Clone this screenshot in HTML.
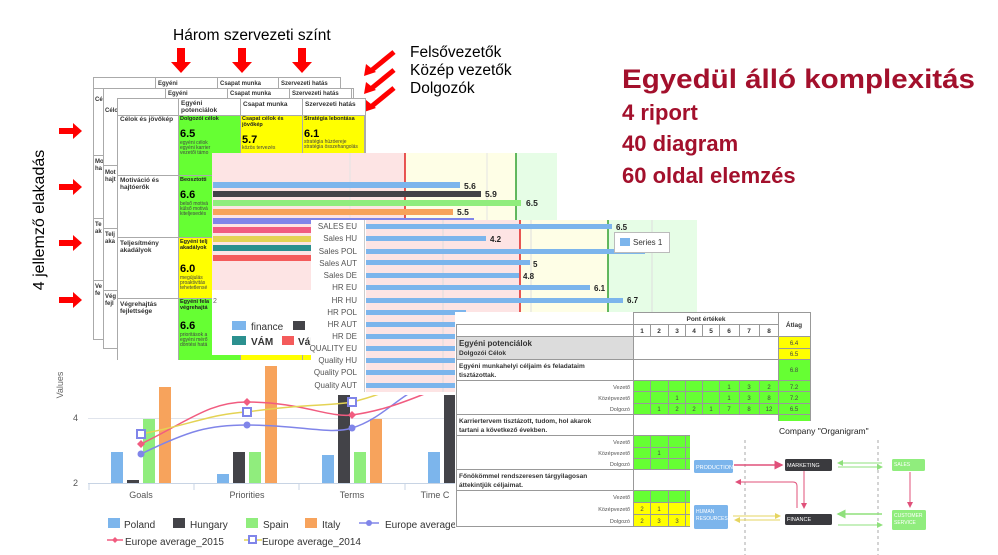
<!DOCTYPE html>
<html><head><meta charset="utf-8"><style>
html,body{margin:0;padding:0;background:#fff;}
svg{display:block;font-family:"Liberation Sans",sans-serif;}
</style></head><body>
<svg width="998" height="555" viewBox="0 0 998 555" xmlns="http://www.w3.org/2000/svg">
<defs>
<marker id="ap" markerWidth="6" markerHeight="6" refX="5" refY="3" orient="auto"><path d="M0,0 L6,3 L0,6z" fill="#e0507a"/></marker>
<marker id="ag" markerWidth="6" markerHeight="6" refX="5" refY="3" orient="auto"><path d="M0,0 L6,3 L0,6z" fill="#8fe07c"/></marker>
<marker id="ay" markerWidth="6" markerHeight="6" refX="5" refY="3" orient="auto"><path d="M0,0 L6,3 L0,6z" fill="#e6d560"/></marker>
</defs>
<rect width="998" height="555" fill="#fff"/>

<text x="173" y="40" font-size="15.5" fill="#000">Három szervezeti színt</text>
<g fill="#f00">
<path d="M177,48h8v14h6l-10,11l-10,-11h6z"/>
<path d="M238,48h8v14h6l-10,11l-10,-11h6z"/>
<path d="M298,48h8v14h6l-10,11l-10,-11h6z"/>
</g>
<g stroke="#f00" stroke-width="5" fill="none">
<line x1="394" y1="52" x2="372" y2="70"/><line x1="394" y1="70" x2="372" y2="88"/><line x1="394" y1="88" x2="372" y2="106"/>
</g>
<g fill="#f00">
<path d="M364,76 L366,64 L376,72z"/><path d="M364,94 L366,82 L376,90z"/><path d="M364,112 L366,100 L376,108z"/>
</g>
<text x="410" y="57" font-size="15.5">Felsővezetők</text>
<text x="410" y="75" font-size="15.5">Közép vezetők</text>
<text x="410" y="93" font-size="15.5">Dolgozók</text>

<text transform="translate(44,220) rotate(-90)" text-anchor="middle" font-size="16">4 jellemző elakadás</text>
<g fill="#f00">
<path d="M59,128h14v-5l9,8l-9,8v-5h-14z"/>
<path d="M59,184h14v-5l9,8l-9,8v-5h-14z"/>
<path d="M59,240h14v-5l9,8l-9,8v-5h-14z"/>
<path d="M59,297h14v-5l9,8l-9,8v-5h-14z"/>
</g>

<g stroke="#aaa" stroke-width="1" fill="#fff">
<rect x="93.5" y="77.5" width="247" height="262"/>
<rect x="155.5" y="77.5" width="62" height="11"/><rect x="217.5" y="77.5" width="61" height="11"/><rect x="278.5" y="77.5" width="62" height="11"/>
<line x1="93" y1="88.5" x2="340" y2="88.5"/>
<line x1="93" y1="155.5" x2="103" y2="155.5"/><line x1="93" y1="218.5" x2="103" y2="218.5"/><line x1="93" y1="280.5" x2="103" y2="280.5"/>
</g>
<g font-size="6" font-weight="bold" fill="#333">
<text x="158" y="85">Egyéni</text><text x="220" y="85">Csapat munka</text><text x="281" y="85">Szervezeti hatás</text>
<text x="95" y="101">Cé</text><text x="95" y="163">Mo</text><text x="95" y="170">ha</text><text x="95" y="226">Te</text><text x="95" y="233">ak</text><text x="95" y="288">Ve</text><text x="95" y="295">fe</text>
</g>
<g stroke="#aaa" stroke-width="1" fill="#fff">
<rect x="103.5" y="88.5" width="250" height="260"/>
<rect x="165.5" y="88.5" width="62" height="10"/><rect x="227.5" y="88.5" width="62" height="10"/><rect x="289.5" y="88.5" width="62" height="10"/>
<line x1="103" y1="165.5" x2="117" y2="165.5"/><line x1="103" y1="228.5" x2="117" y2="228.5"/><line x1="103" y1="290.5" x2="117" y2="290.5"/>
</g>
<g font-size="6" font-weight="bold" fill="#333">
<text x="168" y="95">Egyéni</text><text x="230" y="95">Csapat munka</text><text x="292" y="95">Szervezeti hatás</text>
<text x="105" y="112">Célo</text><text x="105" y="174">Mot</text><text x="105" y="181">hajt</text><text x="105" y="236">Telj</text><text x="105" y="243">aka</text><text x="105" y="298">Vég</text><text x="105" y="305">fejl</text>
</g>
<g stroke="#aaa" stroke-width="1">
<rect x="117.5" y="98.5" width="248" height="262" fill="#fff"/>
<rect x="178.5" y="115.5" width="62" height="60" fill="#66ff33"/>
<rect x="240.5" y="115.5" width="62" height="60" fill="#ffff00"/>
<rect x="302.5" y="115.5" width="62" height="60" fill="#ffff00"/>
<rect x="178.5" y="175.5" width="62" height="62" fill="#66ff33"/>
<rect x="178.5" y="237.5" width="62" height="61" fill="#ffff00"/>
<rect x="178.5" y="298.5" width="62" height="62" fill="#66ff33"/>
<rect x="240.5" y="298.5" width="62" height="62" fill="#ffff00"/>
<rect x="302.5" y="298.5" width="62" height="62" fill="#ffff00"/>
<line x1="178.5" y1="98" x2="178.5" y2="360"/><line x1="240.5" y1="98" x2="240.5" y2="115"/><line x1="302.5" y1="98" x2="302.5" y2="115"/>
<line x1="117" y1="115.5" x2="365" y2="115.5"/><line x1="117" y1="175.5" x2="178" y2="175.5"/><line x1="117" y1="237.5" x2="178" y2="237.5"/><line x1="117" y1="298.5" x2="178" y2="298.5"/>
</g>
<g font-size="6.5" font-weight="bold" fill="#333">
<text x="181" y="105">Egyéni</text><text x="181" y="112">potenciálok</text><text x="243" y="106">Csapat munka</text><text x="305" y="106">Szervezeti hatás</text>
<text x="120" y="121">Célok és jövőkép</text>
<text x="120" y="182">Motiváció és</text><text x="120" y="189">hajtóerők</text>
<text x="120" y="245">Teljesítmény</text><text x="120" y="252">akadályok</text>
<text x="120" y="306">Végrehajtás</text><text x="120" y="313">fejlettsége</text>
</g>
<g font-size="5.5" font-weight="bold" fill="#222">
<text x="180" y="120">Dolgozói célok</text><text x="242" y="120">Csapat célok és</text><text x="242" y="126">jövőkép</text><text x="304" y="120">Stratégia lebontása</text>
<text x="180" y="181">Beosztotti</text><text x="180" y="243">Egyéni telj</text><text x="180" y="249">akadályok</text>
<text x="180" y="303">Egyéni fela</text><text x="180" y="309">végrehajtá</text>
</g>
<g font-size="11" font-weight="bold" fill="#000">
<text x="180" y="137">6.5</text><text x="242" y="143">5.7</text><text x="304" y="137">6.1</text>
<text x="180" y="198">6.6</text><text x="180" y="272">6.0</text><text x="180" y="329">6.6</text>
</g>
<g font-size="5" fill="#444">
<text x="180" y="144">egyéni célok</text><text x="180" y="149">egyéni karrier</text><text x="180" y="154">vezetői támo</text>
<text x="242" y="149">közös tervezés</text><text x="304" y="143">stratégia húzóereje</text><text x="304" y="148">stratégia összehangolás</text>
<text x="180" y="205">belső motivá</text><text x="180" y="210">külső motivá</text><text x="180" y="215">kiteljesedés</text>
<text x="180" y="279">megújulás</text><text x="180" y="284">proaktivitás</text><text x="180" y="289">tehetetlensé</text>
<text x="180" y="336">prioritások a</text><text x="180" y="341">egyéni mérő</text><text x="180" y="346">döntési hatá</text>
</g>

<rect x="212" y="153" width="345" height="202" fill="#fff"/>
<rect x="212" y="153" width="193" height="137" fill="#fde4e4"/>
<rect x="405" y="153" width="111" height="137" fill="#fefee6"/>
<rect x="516" y="153" width="41" height="137" fill="#e6fde6"/>
<g stroke="#e4e4e4"><line x1="350" y1="153" x2="350" y2="290"/><line x1="487" y1="153" x2="487" y2="290"/></g>
<line x1="405" y1="153" x2="405" y2="290" stroke="#e02020" stroke-width="1.5"/>
<line x1="516" y1="153" x2="516" y2="290" stroke="#30a030" stroke-width="1.5"/>
<rect x="213" y="182" width="247" height="6" fill="#7cb5ec"/>
<rect x="213" y="191" width="268" height="6" fill="#434348"/>
<rect x="213" y="200" width="308" height="6" fill="#90ed7d"/>
<rect x="213" y="209" width="240" height="6" fill="#f7a35c"/>
<rect x="213" y="218" width="261" height="6" fill="#8085e9"/>
<rect x="213" y="227" width="100" height="6" fill="#f15c80"/>
<rect x="213" y="236" width="100" height="6" fill="#e4d354"/>
<rect x="213" y="245" width="100" height="6" fill="#2b908f"/>
<rect x="213" y="255" width="100" height="6" fill="#f45b5b"/>
<g font-size="8.5" font-weight="bold" fill="#222">
<text x="464" y="189">5.6</text><text x="485" y="197">5.9</text><text x="526" y="206">6.5</text><text x="457" y="215">5.5</text>
</g>
<rect x="232" y="321" width="14" height="9" fill="#7cb5ec"/><text x="251" y="330" font-size="10" fill="#333">finance</text>
<rect x="293" y="321" width="12" height="9" fill="#434348"/>
<rect x="232" y="336" width="14" height="9" fill="#2b908f"/><text x="251" y="345" font-size="10" font-weight="bold" fill="#333">VÁM</text>
<rect x="282" y="336" width="12" height="9" fill="#f45b5b"/><text x="298" y="345" font-size="10" font-weight="bold" fill="#333">Váll</text>
<text x="213" y="303" font-size="7" fill="#666">2</text>

<rect x="40" y="360" width="415" height="195" fill="#fff"/>
<text transform="translate(63,385) rotate(-90)" text-anchor="middle" font-size="9" fill="#666">Values</text>
<line x1="88" y1="418.5" x2="455" y2="418.5" stroke="#e0e4ec"/>
<line x1="88" y1="483.5" x2="455" y2="483.5" stroke="#c8d4e4"/>
<g stroke="#c8d4e4"><line x1="89" y1="483" x2="89" y2="490"/><line x1="194" y1="483" x2="194" y2="490"/><line x1="299" y1="483" x2="299" y2="490"/><line x1="405" y1="483" x2="405" y2="490"/></g>
<text x="73" y="421" font-size="9" fill="#555">4</text><text x="73" y="486" font-size="9" fill="#555">2</text>
<g font-size="9" fill="#555" text-anchor="middle"><text x="141" y="498">Goals</text><text x="247" y="498">Priorities</text><text x="352" y="498">Terms</text><text x="435" y="498">Time C</text></g>
<g>
<rect x="111" y="452" width="12" height="31" fill="#7cb5ec"/><rect x="127" y="480" width="12" height="3" fill="#434348"/><rect x="143" y="419" width="12" height="64" fill="#90ed7d"/><rect x="159" y="387" width="12" height="96" fill="#f7a35c"/>
<rect x="217" y="474" width="12" height="9" fill="#7cb5ec"/><rect x="233" y="452" width="12" height="31" fill="#434348"/><rect x="249" y="452" width="12" height="31" fill="#90ed7d"/><rect x="265" y="366" width="12" height="117" fill="#f7a35c"/>
<rect x="322" y="455" width="12" height="28" fill="#7cb5ec"/><rect x="338" y="390" width="12" height="93" fill="#434348"/><rect x="354" y="452" width="12" height="31" fill="#90ed7d"/><rect x="370" y="419" width="12" height="64" fill="#f7a35c"/>
<rect x="428" y="452" width="12" height="31" fill="#7cb5ec"/><rect x="444" y="390" width="11" height="93" fill="#434348"/>
</g>
<path d="M141,454 C190,430 210,425 247,425 C300,425 330,435 352,428 C380,420 400,395 420,388" stroke="#8085e9" stroke-width="1.5" fill="none"/>
<path d="M141,444 C190,420 210,402 247,402 C300,402 330,418 352,415 C390,410 420,395 440,388" stroke="#f15c80" stroke-width="1.5" fill="none"/>
<path d="M141,434 C190,425 210,414 247,412 C300,404 330,406 352,402 C370,398 385,392 395,388" stroke="#e4d354" stroke-width="1.5" fill="none"/>
<circle cx="141" cy="454" r="3.5" fill="#8085e9"/><circle cx="247" cy="425" r="3.5" fill="#8085e9"/><circle cx="352" cy="428" r="3.5" fill="#8085e9"/>
<g fill="#f15c80"><path d="M141,440l4,4l-4,4l-4,-4z"/><path d="M247,398l4,4l-4,4l-4,-4z"/><path d="M352,411l4,4l-4,4l-4,-4z"/></g>
<g fill="#fff" stroke="#8085e9" stroke-width="2"><rect x="137" y="430" width="8" height="8"/><rect x="243" y="408" width="8" height="8"/><rect x="348" y="398" width="8" height="8"/></g>
<g font-size="10" fill="#333">
<rect x="108" y="518" width="12" height="10" fill="#7cb5ec"/><text x="124" y="528">Poland</text>
<rect x="173" y="518" width="12" height="10" fill="#434348"/><text x="190" y="528">Hungary</text>
<rect x="246" y="518" width="12" height="10" fill="#90ed7d"/><text x="263" y="528">Spain</text>
<rect x="305" y="518" width="12" height="10" fill="#f7a35c"/><text x="322" y="528">Italy</text>
<line x1="359" y1="523" x2="379" y2="523" stroke="#8085e9" stroke-width="1.5"/><circle cx="369" cy="523" r="3" fill="#8085e9"/><text x="385" y="528">Europe average</text>
<line x1="107" y1="540" x2="123" y2="540" stroke="#f15c80" stroke-width="1.5"/><path d="M115,537l3,3l-3,3l-3,-3z" fill="#f15c80"/><text x="125" y="545">Europe average_2015</text>
<line x1="244" y1="540" x2="262" y2="540" stroke="#e4d354" stroke-width="1.5"/><rect x="249" y="536" width="7" height="7" fill="#fff" stroke="#8085e9" stroke-width="2"/><text x="262" y="545">Europe average_2014</text>
</g>

<rect x="311" y="220" width="386" height="175" fill="#fff"/>
<rect x="366" y="220" width="154" height="172" fill="#fde4e4"/>
<rect x="520" y="220" width="88" height="172" fill="#fefee6"/>
<rect x="608" y="220" width="89" height="172" fill="#e6fde6"/>
<g stroke="#ddd"><line x1="443" y1="220" x2="443" y2="392"/><line x1="531" y1="220" x2="531" y2="392"/><line x1="652" y1="220" x2="652" y2="392"/></g>
<line x1="520" y1="220" x2="520" y2="392" stroke="#e02020" stroke-width="1.5"/>
<line x1="608" y1="220" x2="608" y2="392" stroke="#30a030" stroke-width="1.5"/>
<line x1="364.5" y1="220" x2="364.5" y2="392" stroke="#ccc"/>
<g fill="#7cb5ec">
<rect x="366" y="224" width="246" height="5"/><rect x="366" y="236" width="120" height="5"/><rect x="366" y="249" width="279" height="5"/><rect x="366" y="260" width="164" height="5"/><rect x="366" y="273" width="153" height="5"/><rect x="366" y="285" width="224" height="5"/><rect x="366" y="298" width="257" height="5"/>
<rect x="366" y="310" width="100" height="5"/><rect x="366" y="322" width="100" height="5"/><rect x="366" y="334" width="100" height="5"/><rect x="366" y="346" width="100" height="5"/><rect x="366" y="358" width="100" height="5"/><rect x="366" y="370" width="100" height="5"/><rect x="366" y="383" width="100" height="5"/>
</g>
<g font-size="8" fill="#555" text-anchor="end">
<text x="357" y="229">SALES EU</text><text x="357" y="241">Sales HU</text><text x="357" y="254">Sales POL</text><text x="357" y="266">Sales AUT</text><text x="357" y="278">Sales DE</text><text x="357" y="290">HR EU</text><text x="357" y="303">HR HU</text><text x="357" y="315">HR POL</text><text x="357" y="327">HR AUT</text><text x="357" y="339">HR DE</text><text x="357" y="351">QUALITY EU</text><text x="357" y="363">Quality HU</text><text x="357" y="375">Quality POL</text><text x="357" y="388">Quality AUT</text>
</g>
<g font-size="8" font-weight="bold" fill="#222">
<text x="616" y="230">6.5</text><text x="490" y="242">4.2</text><text x="533" y="267">5</text><text x="523" y="279">4.8</text><text x="594" y="291">6.1</text><text x="627" y="303">6.7</text>
</g>
<rect x="614.5" y="232.5" width="55" height="20" fill="#fff" stroke="#bbb"/>
<rect x="620" y="238" width="10" height="8" fill="#7cb5ec"/><text x="633" y="245" font-size="8" fill="#333">Series 1</text>

<rect x="455" y="312" width="360" height="215" fill="#fff"/>
<g stroke="#999" stroke-width="1" fill="none">
<rect x="633.5" y="312.5" width="145" height="12"/>
<rect x="778.5" y="312.5" width="32" height="24"/>
<rect x="456.5" y="324.5" width="177" height="12"/>
</g>
<g fill="#66ff33">
<rect x="778" y="359" width="32" height="21"/><rect x="633" y="380" width="177" height="34"/><rect x="778" y="414" width="32" height="21"/><rect x="633" y="435" width="177" height="34"/><rect x="633" y="490" width="177" height="12"/>
</g>
<g fill="#ffff00"><rect x="778" y="336" width="32" height="12"/><rect x="778" y="348" width="32" height="11"/><rect x="633" y="502" width="177" height="24"/></g>
<rect x="456" y="336" width="177" height="23" fill="#dcdcdc"/>
<g stroke="#999" stroke-width="1">
<line x1="456" y1="336.5" x2="811" y2="336.5"/><line x1="456" y1="359.5" x2="811" y2="359.5"/><line x1="456" y1="380.5" x2="811" y2="380.5"/><line x1="456" y1="414.5" x2="811" y2="414.5"/><line x1="456" y1="435.5" x2="811" y2="435.5"/><line x1="456" y1="469.5" x2="811" y2="469.5"/><line x1="456" y1="490.5" x2="811" y2="490.5"/><line x1="456" y1="526.5" x2="811" y2="526.5"/>
<line x1="633" y1="391.5" x2="811" y2="391.5"/><line x1="633" y1="403.5" x2="811" y2="403.5"/><line x1="633" y1="447.5" x2="811" y2="447.5"/><line x1="633" y1="458.5" x2="811" y2="458.5"/><line x1="633" y1="502.5" x2="811" y2="502.5"/><line x1="633" y1="514.5" x2="811" y2="514.5"/><line x1="778" y1="348.5" x2="811" y2="348.5"/>
<line x1="456.5" y1="324" x2="456.5" y2="527"/><line x1="633.5" y1="312" x2="633.5" y2="527"/><line x1="778.5" y1="312" x2="778.5" y2="527"/><line x1="810.5" y1="312" x2="810.5" y2="527"/>
</g>
<g stroke="#999" stroke-width="1">
<path d="M650.5,324V336M668.5,324V336M685.5,324V336M702.5,324V336M719.5,324V336M739.5,324V336M759.5,324V336"/>
<path d="M650.5,380V414M668.5,380V414M685.5,380V414M702.5,380V414M719.5,380V414M739.5,380V414M759.5,380V414"/>
<path d="M650.5,435V469M668.5,435V469M685.5,435V469M650.5,490V526M668.5,490V526M685.5,490V526"/>
</g>
<g font-size="6.5" font-weight="bold" fill="#333" text-anchor="middle">
<text x="706" y="321">Pont értékek</text><text x="794" y="327">Átlag</text>
<text x="642" y="333">1</text><text x="659" y="333">2</text><text x="677" y="333">3</text><text x="694" y="333">4</text><text x="711" y="333">5</text><text x="729" y="333">6</text><text x="749" y="333">7</text><text x="769" y="333">8</text>
</g>
<g font-size="6" fill="#444" text-anchor="middle">
<text x="794" y="345">6.4</text><text x="794" y="356">6.5</text><text x="794" y="372">6.8</text>
<text x="729" y="389">1</text><text x="749" y="389">3</text><text x="769" y="389">2</text><text x="794" y="389">7.2</text>
<text x="677" y="400">1</text><text x="729" y="400">1</text><text x="749" y="400">3</text><text x="769" y="400">8</text><text x="794" y="400">7.2</text>
<text x="659" y="411">1</text><text x="677" y="411">2</text><text x="694" y="411">2</text><text x="711" y="411">1</text><text x="729" y="411">7</text><text x="749" y="411">8</text><text x="769" y="411">12</text><text x="794" y="411">6.5</text>
<text x="659" y="455">1</text>
<text x="642" y="511">2</text><text x="659" y="511">1</text><text x="642" y="523">2</text><text x="659" y="523">3</text><text x="677" y="523">3</text>
</g>
<g font-size="6.5" font-weight="bold" fill="#333">
<text x="459" y="346" font-size="8">Egyéni potenciálok</text><text x="459" y="355">Dolgozói Célok</text>
<text x="459" y="368">Egyéni munkahelyi céljaim és feladataim</text><text x="459" y="377">tisztázottak.</text>
<text x="459" y="423">Karriertervem tisztázott, tudom, hol akarok</text><text x="459" y="432">tartani a következő években.</text>
<text x="459" y="478">Főnökömmel rendszeresen tárgyilagosan</text><text x="459" y="487">áttekintjük céljaimat.</text>
</g>
<g font-size="5.5" fill="#555" text-anchor="end">
<text x="630" y="389">Vezető</text><text x="630" y="400">Középvezető</text><text x="630" y="411">Dolgozó</text>
<text x="630" y="444">Vezető</text><text x="630" y="455">Középvezető</text><text x="630" y="466">Dolgozó</text>
<text x="630" y="499">Vezető</text><text x="630" y="511">Középvezető</text><text x="630" y="523">Dolgozó</text>
</g>

<rect x="690" y="421" width="308" height="134" fill="#fff"/>
<text x="779" y="434" font-size="8.5" fill="#222">Company "Organigram"</text>
<g stroke="#aaa" stroke-dasharray="3,3"><line x1="745" y1="440" x2="745" y2="555"/><line x1="878" y1="440" x2="878" y2="555"/></g>
<rect x="694" y="460" width="39" height="13" rx="1.5" fill="#7cb5ec"/><text x="696" y="469" font-size="5.5" fill="#fff">PRODUCTION</text>
<rect x="785" y="459" width="47" height="12" rx="1.5" fill="#3a3a3e"/><text x="787" y="467" font-size="5.5" fill="#fff">MARKETING</text>
<rect x="892" y="459" width="33" height="12" rx="1.5" fill="#90ed7d"/><text x="894" y="466" font-size="5" fill="#fff">SALES</text>
<rect x="694" y="505" width="34" height="24" rx="1.5" fill="#7cb5ec"/><text x="696" y="513" font-size="5" fill="#fff">HUMAN</text><text x="696" y="520" font-size="5" fill="#fff">RESOURCES</text>
<rect x="785" y="514" width="47" height="11" rx="1.5" fill="#3a3a3e"/><text x="787" y="521" font-size="5.5" fill="#fff">FINANCE</text>
<rect x="892" y="510" width="34" height="20" rx="1.5" fill="#90ed7d"/><text x="894" y="517" font-size="5" fill="#fff">CUSTOMER</text><text x="894" y="524" font-size="5" fill="#fff">SERVICE</text>
<line x1="734" y1="465" x2="782" y2="465" stroke="#e0507a" stroke-width="1.5" marker-end="url(#ap)"/>
<line x1="804" y1="471" x2="804" y2="508" stroke="#e0507a" stroke-width="1" marker-end="url(#ap)"/>
<path d="M797,508 V486 Q797,482 793,482 H736" stroke="#e0507a" stroke-width="1" fill="none" marker-end="url(#ap)"/>
<line x1="882" y1="463" x2="838" y2="463" stroke="#8fe07c" stroke-width="1" marker-end="url(#ag)"/>
<line x1="838" y1="467" x2="882" y2="467" stroke="#8fe07c" stroke-width="1" marker-end="url(#ag)"/>
<line x1="910" y1="472" x2="910" y2="507" stroke="#e0507a" stroke-width="1" marker-end="url(#ap)"/>
<line x1="733" y1="516" x2="780" y2="516" stroke="#e6d560" stroke-width="1" marker-end="url(#ay)"/>
<line x1="780" y1="520" x2="735" y2="520" stroke="#e6d560" stroke-width="1" marker-end="url(#ay)"/>
<line x1="882" y1="514" x2="838" y2="514" stroke="#8fe07c" stroke-width="1.5" marker-end="url(#ag)"/>
<line x1="838" y1="525" x2="882" y2="525" stroke="#8fe07c" stroke-width="1" marker-end="url(#ag)"/>

<text x="622" y="88" font-size="27" font-weight="bold" fill="#a3102c" textLength="353" lengthAdjust="spacingAndGlyphs">Egyedül álló komplexitás</text>
<text x="622" y="120" font-size="22" font-weight="bold" fill="#a3102c">4 riport</text>
<text x="622" y="151" font-size="22" font-weight="bold" fill="#a3102c">40 diagram</text>
<text x="622" y="183" font-size="22" font-weight="bold" fill="#a3102c">60 oldal elemzés</text>
</svg>
</body></html>
